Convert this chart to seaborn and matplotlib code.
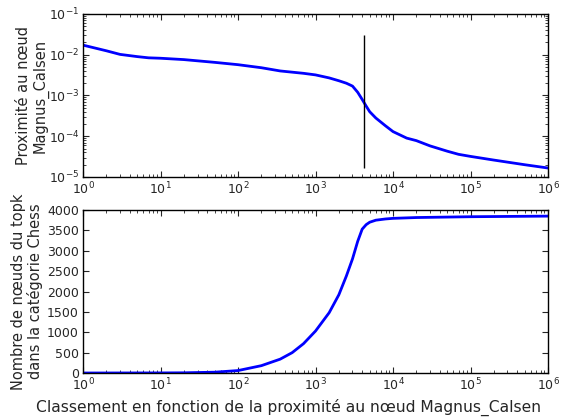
import matplotlib
matplotlib.use("Agg")
import matplotlib.pyplot as plt
import seaborn as sns
import pandas as pd
import numpy as np

# Top panel: proximity vs rank
rank_top = [1, 2, 3, 5, 7, 10, 20, 50, 100, 200, 350, 700, 1000, 1500, 2000, 2500,
            3000, 3500, 4000, 4500, 5000, 6000, 8000, 10000, 15000, 20000, 30000,
            50000, 70000, 100000, 200000, 500000, 1000000]
proximity = [0.0172, 0.0125, 0.0102, 0.0090, 0.0084, 0.0082, 0.0076, 0.0065, 0.0057,
             0.0048, 0.0040, 0.0035, 0.0032, 0.0027, 0.0023, 0.0020, 0.0017, 0.0012,
             0.0008, 0.00055, 0.00040, 0.00028, 0.00018, 0.00013, 0.00009, 0.000078,
             0.000058, 0.000043, 0.000036, 0.000032, 0.000026, 0.000020, 0.0000166]

# Vertical marker
vline_x = 4270
vline_y = [1.7e-5, 0.030]

# Bottom panel: count of top-k nodes in Chess category
rank_bot = [1, 10, 20, 50, 100, 200, 350, 500, 700, 1000, 1500, 2000, 2500, 3000,
            3500, 4000, 4500, 5000, 6000, 8000, 10000, 20000, 100000, 1000000]
count_chess = [0, 2, 5, 20, 60, 180, 340, 500, 720, 1030, 1480, 1920, 2380, 2800,
               3230, 3530, 3640, 3700, 3750, 3780, 3795, 3815, 3835, 3850]

sns.set_style("ticks", {"xtick.direction": "in", "ytick.direction": "in"})
plt.rcParams['font.family'] = ['DejaVu Sans']

fig = plt.figure(figsize=(5.73, 4.2), dpi=100)
ax1 = fig.add_axes([0.1449, 0.5786, 0.8115, 0.3881])
ax2 = fig.add_axes([0.1449, 0.1119, 0.8115, 0.3881])

df_top = pd.DataFrame({"rank": rank_top, "prox": proximity})
sns.lineplot(data=df_top, x="rank", y="prox", ax=ax1, color="blue", linewidth=2)
ax1.vlines(vline_x, vline_y[0], vline_y[1], color="black", linewidth=1)
ax1.set_xscale("log")
ax1.set_yscale("log")
ax1.set_xlim(1, 1e6)
ax1.set_ylim(1e-5, 1e-1)
ax1.set_xlabel("")
ax1.set_ylabel("Proximité au nœud\nMagnus_Calsen", fontsize=10.5, linespacing=1.05)
ax1.yaxis.set_label_coords(-0.075, 0.5)

df_bot = pd.DataFrame({"rank": rank_bot, "count": count_chess})
sns.lineplot(data=df_bot, x="rank", y="count", ax=ax2, color="blue", linewidth=2)
ax2.set_xscale("log")
ax2.set_xlim(1, 1e6)
ax2.set_ylim(0, 4000)
ax2.set_yticks(np.arange(0, 4001, 500))
ax2.set_ylabel("Nombre de nœuds du topk\ndans la catégorie Chess", fontsize=10.5, linespacing=1.1)
ax2.yaxis.set_label_coords(-0.086, 0.5)
ax2.set_xlabel("Classement en fonction de la proximité au nœud Magnus_Calsen", fontsize=11.2)
ax2.xaxis.set_label_coords(0.441, -0.16)

for ax in (ax1, ax2):
    ax.tick_params(which="both", top=True, right=True, direction="in", labelsize=9, pad=3)
    ax.tick_params(which="major", length=4)
    ax.tick_params(which="minor", length=2)
    for s in ax.spines.values():
        s.set_visible(True)
        s.set_color("black")
        s.set_linewidth(1)

fig.savefig("out.png", dpi=100)
